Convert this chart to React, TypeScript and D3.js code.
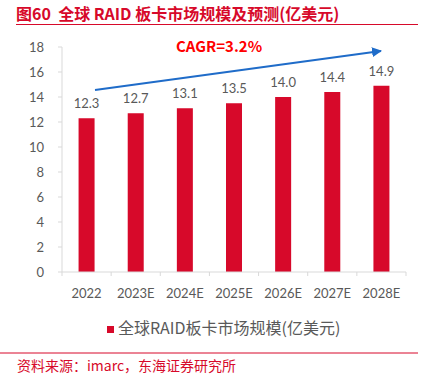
import React from "react";
import * as d3 from "d3";

const categories = ["2022", "2023E", "2024E", "2025E", "2026E", "2027E", "2028E"];
const values = [12.3, 12.7, 13.1, 13.5, 14.0, 14.4, 14.9];
const yTicks = [0, 2, 4, 6, 8, 10, 12, 14, 16, 18];
const titleText = "图60  全球 RAID 板卡市场规模及预测(亿美元)";
const legendText = "全球RAID板卡市场规模(亿美元)";
const sourceText = "资料来源：imarc，东海证券研究所";
const cagrText = "CAGR=3.2%";

const RED = "#D7092A";
const GRAY = "#595959";
const AXIS = "#D9D9D9";
const CJK = "'Noto Sans CJK SC', 'Noto Sans', sans-serif";
const NUM = "Lato, 'Noto Sans', sans-serif";

export default function App() {
  const W = 423, H = 382;
  const x0 = 62, x1 = 406, yTop = 47, yBot = 272;
  const x = d3.scaleBand<string>().domain(categories).range([x0, x1]).paddingInner(0).paddingOuter(0);
  const y = d3.scaleLinear().domain([0, 18]).range([yBot, yTop]);
  const bw = 16;
  const boundaries = categories.map((c) => x(c) as number).concat([x1]);

  return (
    <svg width={W} height={H} style={{ position: "absolute", left: 0, top: 0, background: "#fff" }}>
      <defs>
        <marker id="arr" viewBox="0 0 10 10" refX="9" refY="5" markerWidth="5" markerHeight="5" orient="auto">
          <path d="M0,0 L10,5 L0,10 z" fill="#1F6CC9" />
        </marker>
      </defs>
      <text x={16} y={20} fill={RED} fontFamily={CJK} fontWeight="bold" fontSize={16} style={{ whiteSpace: "pre" }}>
        {titleText}
      </text>
      <line x1={16} x2={418} y1={24.5} y2={24.5} stroke={RED} strokeWidth={1.2} />

      {/* y axis */}
      <line x1={x0} x2={x0} y1={yTop} y2={yBot} stroke={AXIS} />
      {yTicks.map((t) => (
        <g key={t}>
          <line x1={x0 - 4} x2={x0} y1={y(t)} y2={y(t)} stroke={AXIS} />
          <text x={44} y={y(t)} dy="0.35em" textAnchor="end" fill={GRAY} fontFamily={NUM} fontSize={13}>
            {t}
          </text>
        </g>
      ))}

      {/* bars */}
      {categories.map((c, i) => {
        const cx = (x(c) as number) + x.bandwidth() / 2;
        return (
          <g key={c}>
            <rect x={cx - bw / 2} y={y(values[i])} width={bw} height={yBot - y(values[i])} fill={RED} />
            <text x={cx} y={y(values[i]) - 10} textAnchor="middle" fill={GRAY} fontFamily={NUM} fontSize={13}>
              {values[i].toFixed(1)}
            </text>
            <text x={cx} y={298} textAnchor="middle" fill={GRAY} fontFamily={NUM} fontSize={13}>
              {c}
            </text>
          </g>
        );
      })}

      {/* x axis */}
      <line x1={x0} x2={x1} y1={yBot} y2={yBot} stroke={AXIS} />
      {boundaries.map((b, i) => (
        <line key={i} x1={b} x2={b} y1={yBot} y2={yBot + 4} stroke={AXIS} />
      ))}

      {/* CAGR arrow */}
      <line x1={95} y1={90} x2={381} y2={51} stroke="#1F6CC9" strokeWidth={2} markerEnd="url(#arr)" />
      <text x={176} y={52} fill="#FF0000" fontFamily={CJK} fontWeight="bold" fontSize={15}>
        {cagrText}
      </text>

      {/* legend */}
      <rect x={107} y={326} width={7} height={7} fill={RED} />
      <text x={118} y={334} fill={GRAY} fontFamily={CJK} fontSize={16}>
        {legendText}
      </text>

      <line x1={0} x2={418} y1={353} y2={353} stroke={RED} strokeWidth={1} />
      <text x={17} y={371} fill={RED} fontFamily={CJK} fontSize={14}>
        {sourceText}
      </text>
    </svg>
  );
}
